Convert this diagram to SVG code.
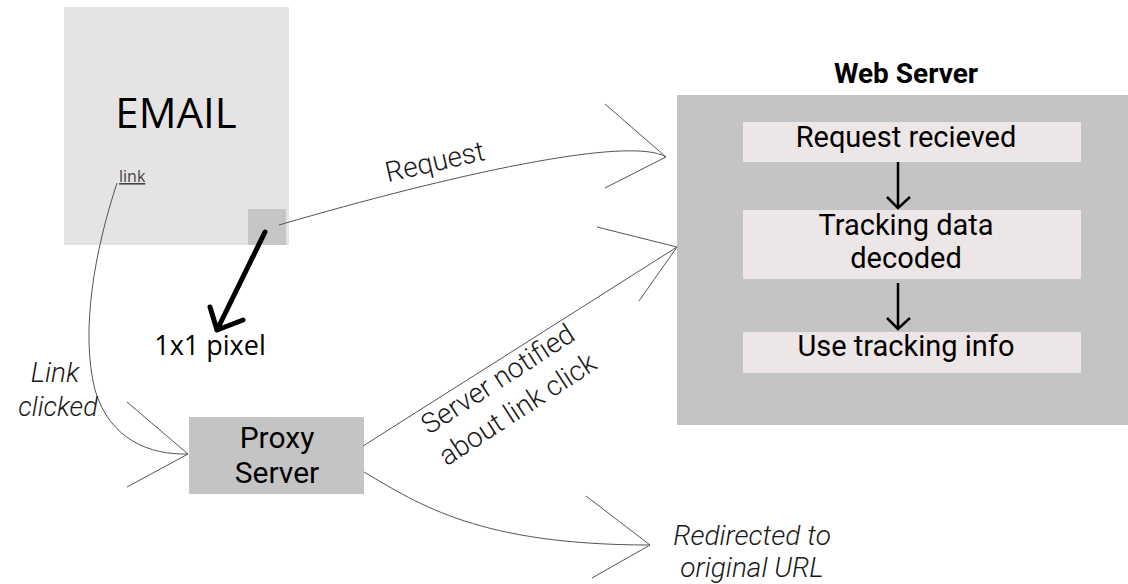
<svg xmlns="http://www.w3.org/2000/svg" width="1128" height="584" viewBox="0 0 1128 584">
<style>
.conn{fill:none;stroke:#555;stroke-width:1;}
.thick{fill:none;stroke:#000;stroke-width:5;stroke-linecap:round;stroke-linejoin:round;}
.inarr{fill:none;stroke:#000;stroke-width:2.5;}
.os{font-family:"Open Sans","Liberation Sans",sans-serif;fill:#000;}
.rb{font-family:Roboto,"Liberation Sans",sans-serif;fill:#000;}
.lt{font-family:Roboto,"Liberation Sans",sans-serif;font-weight:300;fill:#1a1a1a;}
.it{font-family:Roboto,"Liberation Sans",sans-serif;font-weight:300;font-style:italic;fill:#1a1a1a;}
</style>
<rect width="1128" height="584" fill="#fff"/>
<g id="email">
<rect x="64" y="7" width="225" height="238" fill="#e5e3e4"/>
<text class="os" x="176" y="128" font-size="42" text-anchor="middle">EMAIL</text>
<text class="os" x="119" y="182" font-size="16" style="fill:#444" text-decoration="underline">link</text>
</g>
<g id="pixel">
<rect x="248" y="209" width="38" height="36" fill="#c6c6c6"/>
</g>
<g id="pixel-label">
<text class="os" x="210" y="355" font-size="27" text-anchor="middle">1x1 pixel</text>
</g>
<g id="proxy">
<rect x="189" y="417" width="175" height="77" fill="#c4c4c4"/>
<text class="rb" x="277" y="448" font-size="30" text-anchor="middle">Proxy</text>
<text class="rb" x="277" y="483" font-size="30" text-anchor="middle">Server</text>
</g>
<g id="webserver">
<text class="rb" x="906" y="83" font-size="28" font-weight="bold" text-anchor="middle">Web Server</text>
<rect x="677" y="95" width="451" height="330" fill="#c4c4c4"/>
</g>
<g id="step1">
<rect x="743" y="122" width="338" height="40" fill="#ede6e6"/>
<text class="rb" x="906" y="147" font-size="29" text-anchor="middle">Request recieved</text>
</g>
<g id="step2">
<rect x="743" y="210" width="338" height="69" fill="#ede6e6"/>
<text class="rb" x="906" y="235" font-size="29" text-anchor="middle">Tracking data</text>
<text class="rb" x="906" y="268" font-size="29" text-anchor="middle">decoded</text>
</g>
<g id="step3">
<rect x="743" y="332" width="338" height="41" fill="#ede6e6"/>
<text class="rb" x="906" y="356" font-size="29" text-anchor="middle">Use tracking info</text>
</g>
<g id="connectors">
<path class="inarr" d="M898,162 L898,208 M887,197 L898,208 L910,197"/>
<path class="inarr" d="M898,283 L898,329 M887,318 L898,329 L910,318"/>
<path class="thick" d="M265,232 L217,330 M210,307 L217,330 L243,320"/>
<path class="conn" d="M279,225 C450,175 630,135 666,157 M605,104 L666,157 L605,188"/>
<path class="conn" d="M117,183 C95,250 80,330 95,390 C110,440 150,455 188,454 M127,402 L188,454 L127,487"/>
<path class="conn" d="M363,446 L677,247 M597,227 L677,247 L639,301"/>
<path class="conn" d="M364,472 C420,505 480,545 650,545 M586,496 L650,545 L592,578"/>
</g>
<g id="labels">
<text class="lt" font-size="28" text-anchor="middle" transform="translate(437,171) rotate(-13)">Request</text>
<text class="it" x="55" y="382" font-size="28" text-anchor="middle">Link</text>
<text class="it" x="58" y="416" font-size="27" text-anchor="middle">clicked</text>
<g transform="translate(503,387) rotate(-33)">
<text class="lt" x="0" y="0" font-size="28" text-anchor="middle">Server notified</text>
<text class="lt" x="0" y="36" font-size="28" text-anchor="middle">about link click</text>
</g>
<text class="it" x="752" y="545" font-size="28" text-anchor="middle">Redirected to</text>
<text class="it" x="752" y="577" font-size="28" text-anchor="middle">original URL</text>
</g>
</svg>
